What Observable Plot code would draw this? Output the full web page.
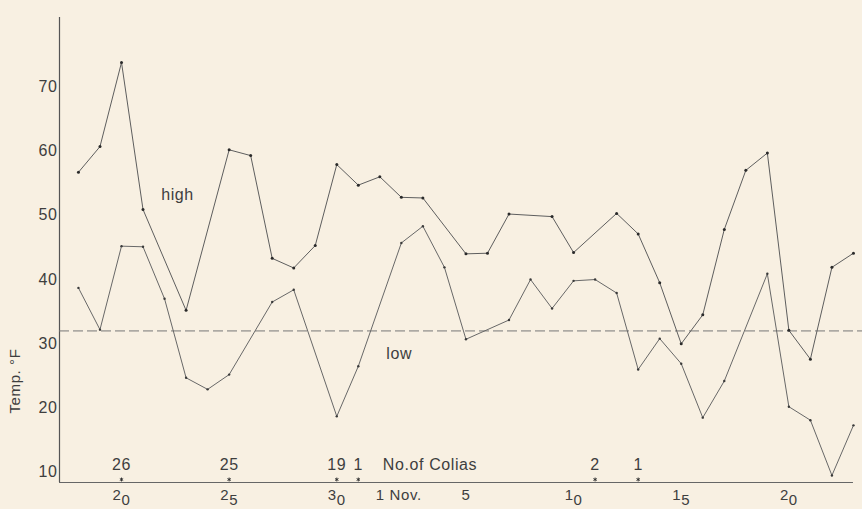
<!DOCTYPE html>
<html><head><meta charset="utf-8">
<script src="https://cdn.jsdelivr.net/npm/d3@7"></script>
<script src="https://cdn.jsdelivr.net/npm/@observablehq/plot@0.6"></script>
<style>
html,body{margin:0;padding:0;background:#f8f0e2;}
#chart svg{display:block;}
#chart svg text{letter-spacing:0.6px;}
</style></head><body><div id="chart"></div>
<script>
// day index = days after 18 October
const highDays = [0,1,2,3,5,7,8,9,10,11,12,13,14,15,16,18,19,20,22,23,25,26,27,28,29,30,31,32,33,34,35,36];
const highTemps = [56.7,60.7,73.8,50.9,35.2,60.2,59.3,43.3,41.8,45.3,57.9,54.7,56.0,52.8,52.7,44.0,44.1,50.2,49.8,44.2,50.3,47.1,39.5,30.0,34.5,47.8,57.0,59.7,32.1,27.6,41.9,44.1];
const lowDays = [0,1,2,3,4,5,6,7,9,10,12,13,15,16,17,18,20,21,22,23,24,25,26,27,28,29,30,32,33,34,35,36];
const lowTemps = [38.7,32.2,45.2,45.1,37.0,24.7,22.9,25.2,36.5,38.4,18.7,26.5,45.7,48.3,41.9,30.7,33.7,40.0,35.5,39.8,40.0,37.9,26.0,30.8,26.9,18.5,24.2,40.9,20.2,18.1,9.5,17.3];
const freezing = [32];
const yTicks = [10,20,30,40,50,60,70];
const xTickDays = [2,7,12,14,18,23,28,33];
const xTickLabels = ["20","25","30","1 Nov.","5","10","15","20"];
const coliasDays = [2,7,12,13,24,26];
const coliasCounts = [26,25,19,1,2,1];
const coliasTitle = ["No.of Colias"];
const labelText = ["high","low"];
const labelDay = [4.6,14.9];
const labelTemp = [53.2,28.5];

const high = highDays.map((d,i)=>({day:d, temp:highTemps[i]}));
const low = lowDays.map((d,i)=>({day:d, temp:lowTemps[i]}));
const colias = coliasDays.map((d,i)=>({day:d, count:String(coliasCounts[i])}));
const labels = labelText.map((t,i)=>({text:t, day:labelDay[i], temp:labelTemp[i]}));

const xDomain = [-0.88, 36.42];
const yDomain = [8.4, 80.8];
const lastDay = Math.max(...highDays, ...lowDays);
const ink = "#3e3e3e";
const font = "'Liberation Sans', Arial, sans-serif";

const chart = Plot.plot({
  width: 862, height: 509,
  marginLeft: 59, marginRight: 0, marginTop: 17, marginBottom: 27,
  x: {domain: xDomain},
  y: {domain: yDomain},
  style: {background: "#f8f0e2", fontFamily: font, color: ink, fontWeight: 400},
  marks: [
    Plot.ruleX([xDomain[0]], {stroke: "#555", strokeWidth: 1.2}),
    Plot.ruleY([yDomain[0]], {x1: xDomain[0], x2: lastDay, stroke: "#666", strokeWidth: 1.2}),
    Plot.ruleY(freezing, {stroke: "#777", strokeDasharray: "10,4", strokeWidth: 1}),
    Plot.line(high, {x: "day", y: "temp", stroke: "#5e5e5e", strokeWidth: 1}),
    Plot.line(low, {x: "day", y: "temp", stroke: "#686868", strokeWidth: 1}),
    Plot.dot(high, {x: "day", y: "temp", r: 1.5, fill: "#2a2a2a"}),
    Plot.dot(low, {x: "day", y: "temp", r: 1.2, fill: "#3a3a3a"}),
    Plot.axisY({ticks: yTicks, tickSize: 0, tickPadding: 2, fontSize: 16, fill: ink, label: null}),
    Plot.axisX({ticks: xTickDays, tickFormat: d => xTickLabels[xTickDays.indexOf(d)], tickSize: 0, tickPadding: 7, fontSize: 15, fill: ink, label: null}),
    Plot.text(["Temp. °F"], {frameAnchor: "bottom-left", rotate: -90, textAnchor: "start", dx: -40, dy: -69, fontSize: 15, fill: ink}),
    Plot.dot(colias, {x: "day", frameAnchor: "bottom", dy: -3, symbol: "asterisk", r: 1.8, stroke: "#333", strokeWidth: 1}),
    Plot.text(colias, {x: "day", text: "count", frameAnchor: "bottom", dy: -13, fontSize: 16, fill: ink}),
    Plot.text(coliasTitle, {x: xTickDays[3], frameAnchor: "bottom", textAnchor: "start", dx: 3, dy: -13, fontSize: 16, fill: ink}),
    Plot.text(labels, {x: "day", y: "temp", text: "text", fontSize: 16, fill: ink})
  ]
});
document.getElementById("chart").appendChild(chart);

// hand-lettered style: second digit of two-digit dates set lower
d3.select(chart).selectAll('g[aria-label="x-axis tick label"] text').each(function() {
  const t = d3.select(this);
  const s = t.text();
  if (/^\d\d$/.test(s)) {
    t.text(s[0]);
    t.append("tspan").attr("dy", "0.3em").text(s[1]);
  } else if (s.startsWith("1 ")) {
    t.attr("text-anchor", "start").attr("dx", -4);
  }
});
</script></body></html>
